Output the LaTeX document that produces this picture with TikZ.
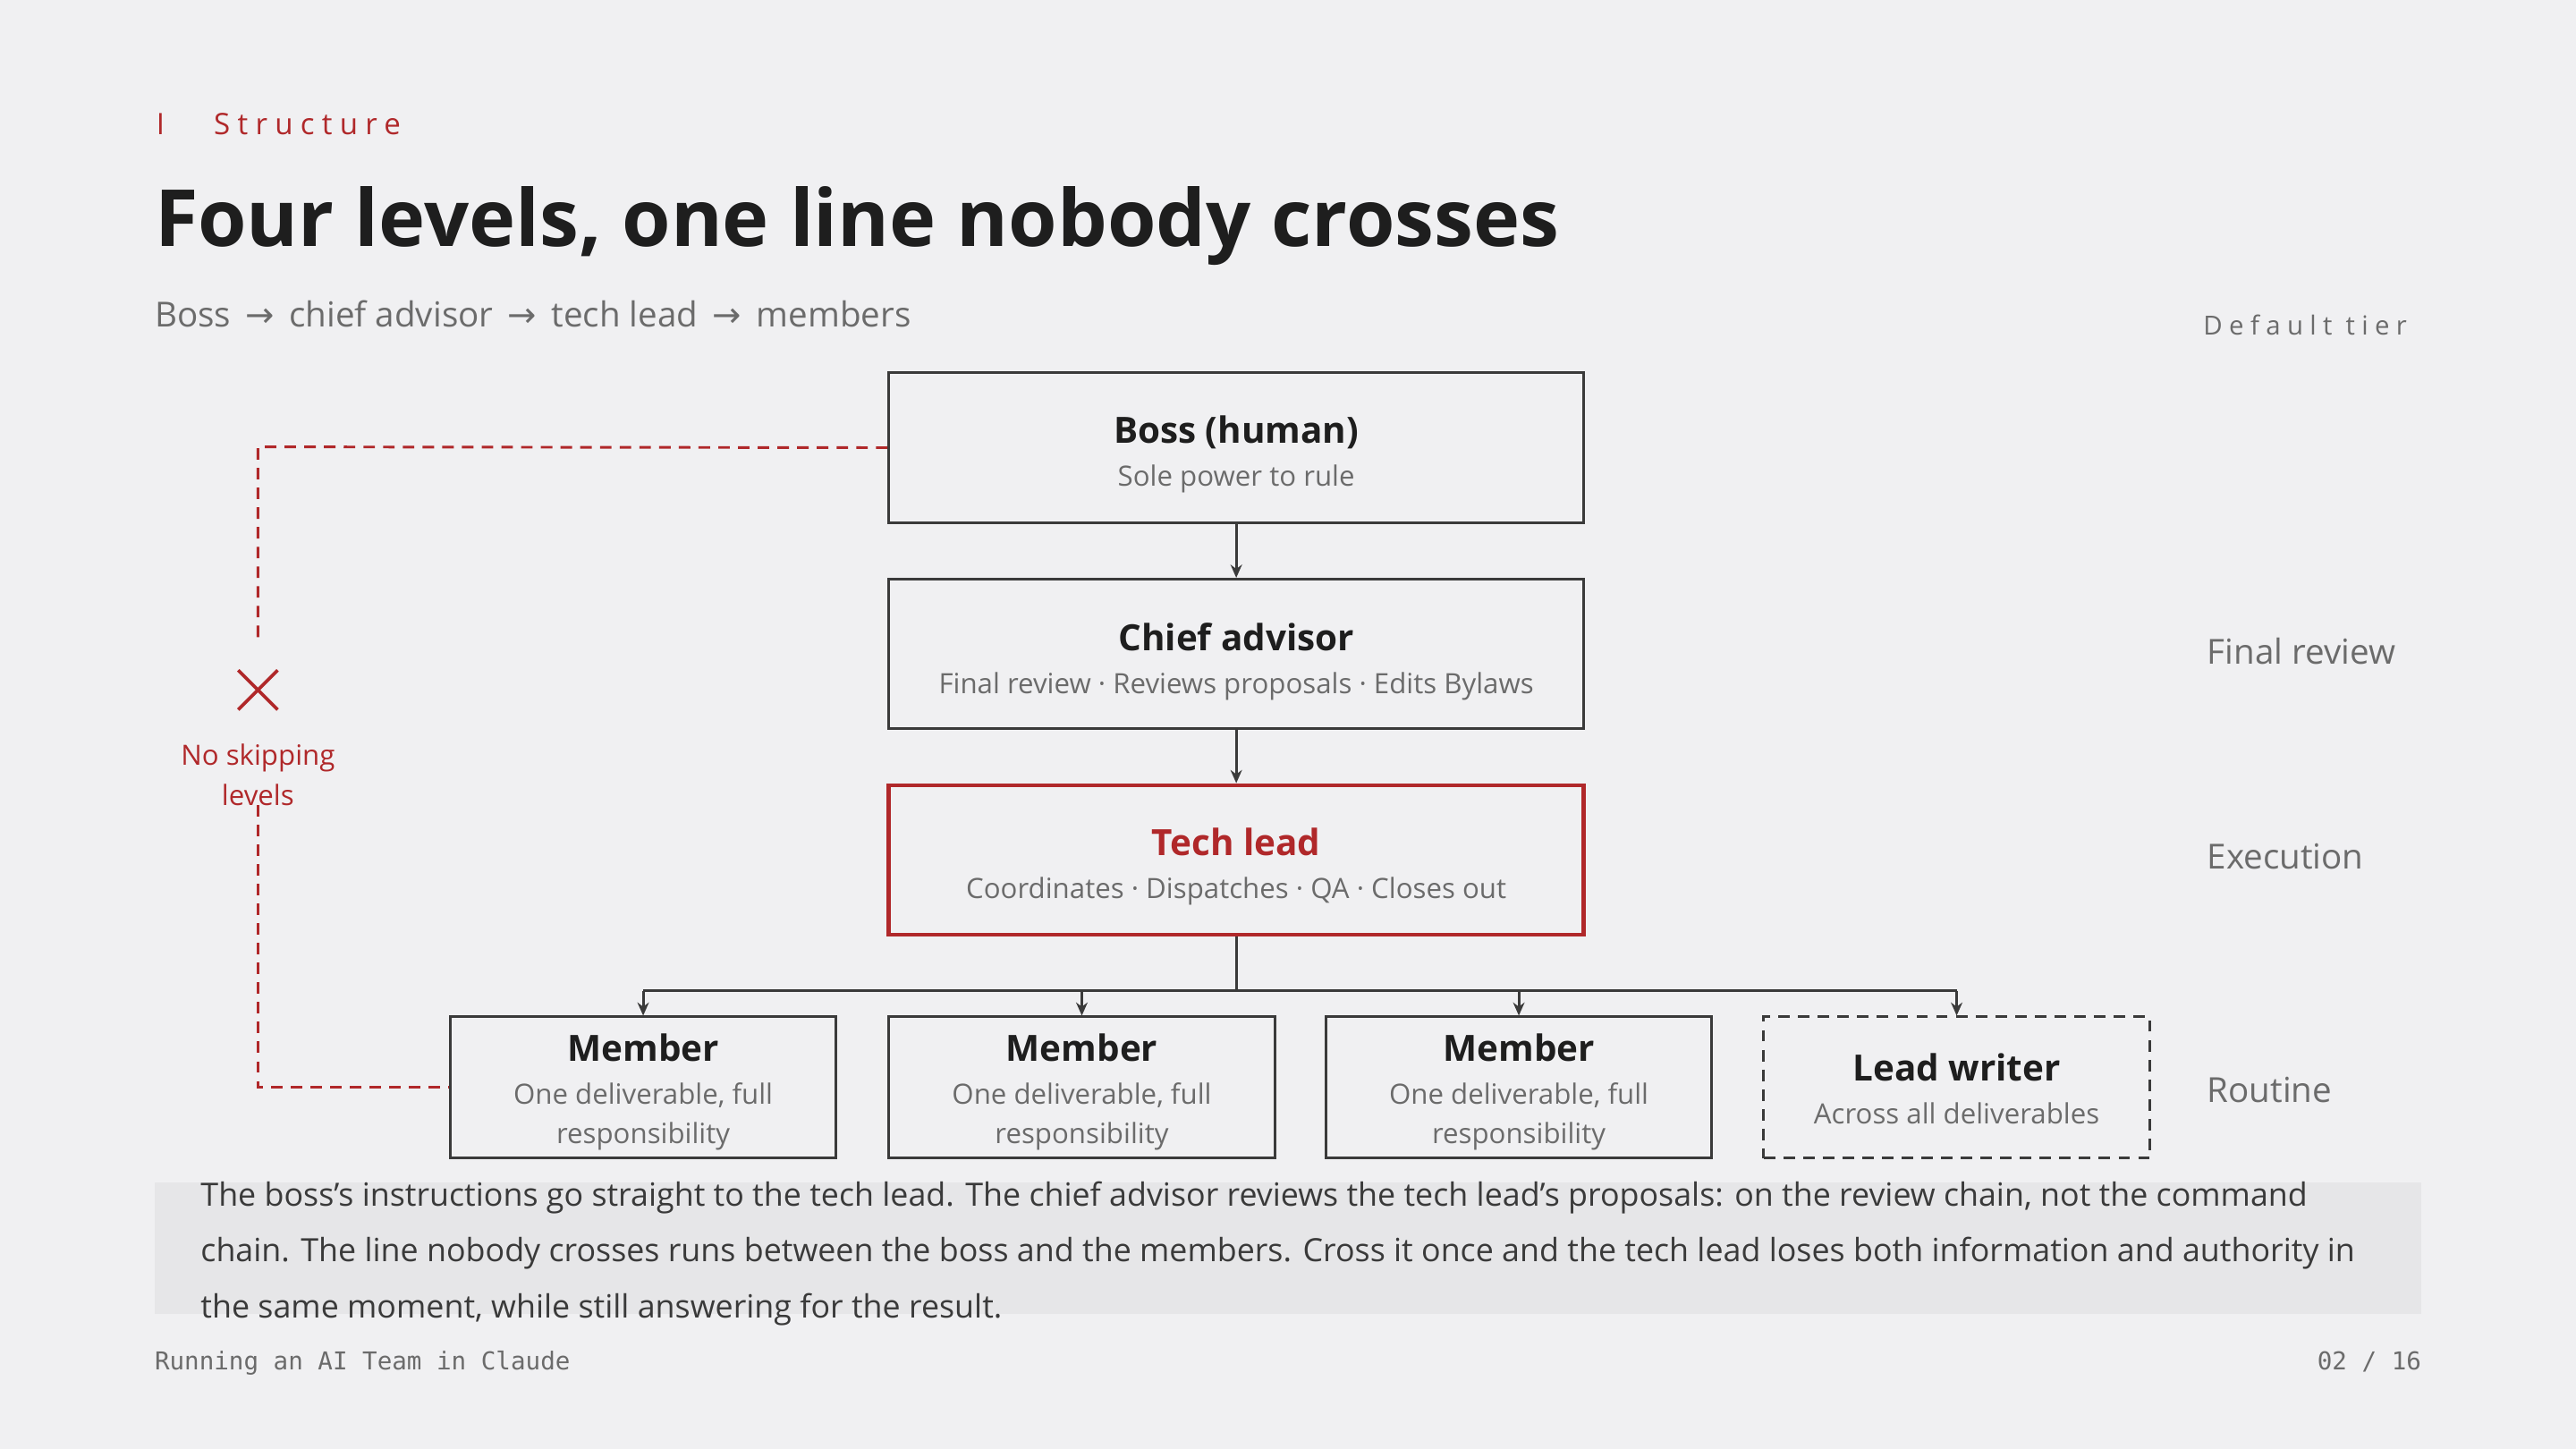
\documentclass[tikz,border=0pt]{standalone}
\usepackage{fontspec}
\setmainfont{Open Sans}
\setmonofont{DejaVu Sans Mono}
\newfontfamily\symf{DejaVu Sans}
\usetikzlibrary{arrows.meta}
\definecolor{bg}{HTML}{F0F0F2}
\definecolor{band}{HTML}{E6E6E8}
\definecolor{ink}{HTML}{1E1E1E}
\definecolor{gr}{HTML}{6B6B6B}
\definecolor{rd}{HTML}{B0282A}
\definecolor{ln}{HTML}{3A3A3A}
\begin{document}
\begin{tikzpicture}[x=1pt,y=-1pt,
 box/.style={draw=ln,line width=1.6pt,fill=bg,minimum width=423pt,minimum height=91pt,inner sep=0pt},
 mbox/.style={draw=ln,line width=1.6pt,fill=bg,minimum width=235pt,minimum height=86pt,inner sep=0pt},
 ttl/.style={font=\fontsize{22}{26}\selectfont\bfseries,text=ink,anchor=base},
 sub/.style={font=\fontsize{17}{24}\selectfont,text=gr,anchor=base,align=center},
 side/.style={font=\fontsize{21}{24}\selectfont,text=gr,anchor=base west},
 arr/.style={draw=ln,line width=1.6pt,-{Stealth[length=8pt,width=7pt]}},
 rdash/.style={draw=rd,line width=1.6pt,dash pattern=on 7pt off 5pt}]
\fill[bg] (0,0) rectangle (1568,882);
\useasboundingbox (0,0) rectangle (1568,882);
\node[anchor=base west,text=rd,font=\fontsize{18}{20}\selectfont,inner sep=0] (kick) at (95,82) {I\hspace{30pt}\addfontfeature{LetterSpace=25}Structure};
\node[anchor=base west,text=ink,font=\fontsize{48}{56}\selectfont\bfseries,inner sep=0] (title) at (94,150) {Four levels, one line nobody crosses};
\node[anchor=base west,text=gr,font=\fontsize{21}{24}\selectfont,inner sep=0] (subt) at (94,199) {Boss {\symf\,→\,} chief advisor {\symf\,→\,} tech lead {\symf\,→\,} members};
\node[anchor=base west,text=gr,font=\fontsize{16}{20}\selectfont,inner sep=0] (tier) at (1341,204) {\addfontfeature{LetterSpace=25}Default tier};
% boxes
\node[box] (boss) at (752.5,272.5) {};
\node[ttl] at (752.5,270) {Boss (human)};
\node[sub] at (752.5,296) {Sole power to rule};
\node[box] (chief) at (752.5,398) {};
\node[ttl] at (752.5,396) {Chief advisor};
\node[sub] at (752.5,422) {Final review · Reviews proposals · Edits Bylaws};
\node[box,draw=rd,line width=2.6pt] (tech) at (752.5,523.5) {};
\node[ttl,text=rd] at (752.5,521) {Tech lead};
\node[sub] at (752.5,547) {Coordinates · Dispatches · QA · Closes out};
\foreach \n/\x in {m1/391.5,m2/658.5,m3/924.5}{
 \node[mbox] (\n) at (\x,662) {};
 \node[ttl] at (\x,646) {Member};
 \node[sub] at (\x,672) {One deliverable, full};
 \node[sub] at (\x,696) {responsibility};
}
\node[mbox,dash pattern=on 7pt off 5pt] (lw) at (1191,662) {};
\node[ttl] at (1191,658) {Lead writer};
\node[sub] at (1191,684) {Across all deliverables};
% connectors
\draw[arr] (boss.south) -- (chief.north);
\draw[arr] (chief.south) -- (tech.north);
\coordinate (bus) at (752.5,603);
\draw[draw=ln,line width=1.6pt] (tech.south) -- (bus);
\draw[draw=ln,line width=1.6pt] (m1.north |- bus) -- (lw.north |- bus);
\foreach \n in {m1,m2,m3,lw} \draw[arr] (\n.north |- bus) -- (\n.north);
% side labels
\node[side] (l1) at (1340,404) {Final review};
\node[side] (l2) at (1340,529) {Execution};
\node[side] (l3) at (1340,671) {Routine};
% no skipping
\coordinate (c1) at (157,272);
\coordinate (c2) at (157,388);
\coordinate (c3) at (157,490);
\coordinate (c4) at (157,662);
\draw[rdash] (boss.west) -- (c1) -- (c2);
\draw[rdash] (c3) -- (c4) -- (m1.west);
\draw[draw=rd,line width=2pt] (145,408) -- (169,432) (169,408) -- (145,432);
\node[text=rd,font=\fontsize{17}{24}\selectfont,align=center,anchor=base] (ns) at (157,490) {No skipping\\levels};
% band
\fill[band] (94,720) rectangle (1474,800);
\node[anchor=base west,text=ln,font=\fontsize{19.5}{34}\selectfont,align=left,inner sep=0] (para) at (122,802) {The boss's instructions go straight to the tech lead. The chief advisor reviews the tech lead's proposals: on the review chain, not the command\\chain. The line nobody crosses runs between the boss and the members. Cross it once and the tech lead loses both information and authority in\\the same moment, while still answering for the result.};
\node[anchor=base west,text=gr,font=\fontsize{15}{18}\ttfamily,inner sep=0] (foot) at (94,834) {Running an AI Team in Claude};
\node[anchor=base east,text=gr,font=\fontsize{15}{18}\ttfamily,inner sep=0] (pg) at (1474,834) {02 / 16};
\end{tikzpicture}
\end{document}
